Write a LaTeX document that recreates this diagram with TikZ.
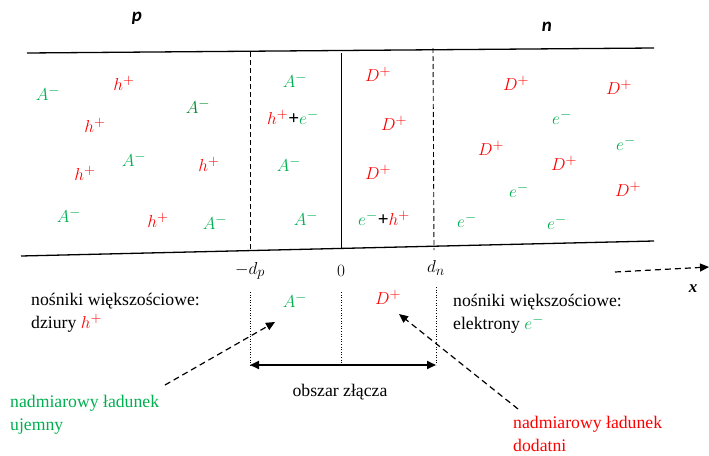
\documentclass[tikz,border=0pt]{standalone}
\usepackage{fontspec}
\setmainfont{Liberation Serif}
\newfontfamily\pnfont{Carlito}
\usetikzlibrary{arrows.meta}
\definecolor{gr}{RGB}{0,176,80}
\definecolor{dgr}{RGB}{0,140,40}
\definecolor{rd}{RGB}{255,0,0}
\tikzset{
  base/.style={inner sep=0pt, font=\fontsize{17.7}{23}\selectfont},
  mbase/.style={inner sep=0pt, font=\fontsize{19}{23}\selectfont},
  acc/.style={mbase, text=gr},
  don/.style={mbase, text=rd},
  hol/.style={mbase, text=rd},
  ele/.style={mbase, text=gr},
  edge/.style={line width=1.3pt},
  dsh/.style={dash pattern=on 6pt off 4pt, line width=1.2pt},
  tri/.style={-{Triangle[length=9pt,width=8pt]}},
}
\newcommand{\Am}{$A^{-}$}
\newcommand{\Dp}{$D^{+}$}
\newcommand{\hp}{$h^{+}$}
\newcommand{\elm}{$e^{-}$}
\begin{document}
\begin{tikzpicture}[x=1pt,y=-1pt]
\useasboundingbox (0,0) rectangle (709,455);
% region boundaries
\coordinate (tl) at (27,53); \coordinate (tr) at (654,48);
\coordinate (bl) at (21,256); \coordinate (br) at (654,241);
\draw[edge] (tl) -- (tr);
\draw[edge] (bl) -- (br);
\coordinate (dpT) at (250,52); \coordinate (dpB) at (250,251);
\coordinate (zT) at (341,53); \coordinate (zB) at (341,249);
\coordinate (dnT) at (433,48); \coordinate (dnB) at (434,250);
\draw[dash pattern=on 5pt off 3pt, line width=0.9pt] (dpT) -- (dpB);
\draw[line width=1pt] (zT) -- (zB);
\draw[dash pattern=on 5pt off 3pt, line width=0.9pt] (dnT) -- (dnB);
% region labels
\node[font=\pnfont\bfseries\itshape\fontsize{19}{19}\selectfont] (p) at (137,18) {p};
\node[font=\pnfont\bfseries\itshape\fontsize{19}{19}\selectfont] (n) at (547,27) {n};
% p region
\node[acc] (a1) at (48,93) {\Am};
\node[hol] (h1) at (124,83) {\hp};
\node[mbase, text=dgr] (a2) at (198,106) {\Am};
\node[hol] (h2) at (95,125) {\hp};
\node[acc] (a3) at (134,159) {\Am};
\node[hol] (h3) at (209,164) {\hp};
\node[hol] (h4) at (85,173) {\hp};
\node[acc] (a4) at (69,215) {\Am};
\node[hol] (h5) at (158,220) {\hp};
\node[acc] (a5) at (215,222) {\Am};
% depletion p side
\node[acc] (a6) at (295,80) {\Am};
\node[mbase] (he) at (293,117) {\textcolor{rd}{$h^{+}$}\textbf{+}\textcolor{gr}{$e^{-}$}};
\node[acc] (a7) at (289,164) {\Am};
\node[acc] (a8) at (306,218) {\Am};
% depletion n side
\node[don] (d1) at (378,74) {\Dp};
\node[don] (d2) at (394,123) {\Dp};
\node[don] (d3) at (378,172) {\Dp};
\node[mbase] (eh) at (384,218) {\textcolor{gr}{$e^{-}$}\textbf{+}\textcolor{rd}{$h^{+}$}};
% n region
\node[don] (d4) at (516,83) {\Dp};
\node[don] (d5) at (619,87) {\Dp};
\node[ele] (e1) at (562,117) {\elm};
\node[ele] (e2) at (626,143) {\elm};
\node[don] (d6) at (491,148) {\Dp};
\node[don] (d7) at (564,163) {\Dp};
\node[ele] (e3) at (519,190) {\elm};
\node[don] (d8) at (628,189) {\Dp};
\node[ele] (e4) at (467,220) {\elm};
\node[ele] (e5) at (557,222) {\elm};
% axis labels
\node[mbase] (ldp) at (250,271) {$-d_{p}$};
\node[mbase] (l0) at (341,271) {$0$};
\node[mbase] (ldn) at (436,268) {$d_{n}$};
% lower dotted lines
\coordinate (dp1) at (250,292); \coordinate (dp2) at (250,365);
\coordinate (z1) at (341,292); \coordinate (z2) at (341,365);
\coordinate (dn1) at (436,287); \coordinate (dn2) at (436,365);
\draw[dotted, line width=0.6pt] (dp1) -- (dp2);
\draw[dotted, line width=0.6pt] (z1) -- (z2);
\draw[dotted, line width=0.6pt] (dn1) -- (dn2);
\draw[line width=1.8pt, {Triangle[length=9pt,width=8pt]}-{Triangle[length=9pt,width=8pt]}] (dp2) -- (dn2);
\node[base] (obs) at (340,392) {obszar złącza};
% charges below
\node[acc] (ab) at (295,300) {\Am};
\node[don] (db) at (388,297) {\Dp};
% majority carriers
\node[base, anchor=west, align=left] (majp) at (31,313) {nośniki większościowe:\\dziury \textcolor{rd}{\fontsize{19}{23}\selectfont$h^{+}$}};
\node[base, anchor=west, align=left] (majn) at (453,314) {nośniki większościowe:\\elektrony \textcolor{gr}{\fontsize{19}{23}\selectfont$e^{-}$}};
% excess charges
\node[base, text=gr, anchor=west, align=left] (neg) at (10,415) {nadmiarowy ładunek\\ujemny};
\node[base, text=rd, anchor=west, align=left] (pos) at (513,434) {nadmiarowy ładunek\\dodatni};
\coordinate (negS) at (165,385); \coordinate (negT) at (275,322);
\coordinate (posS) at (518,409); \coordinate (posT) at (399,314);
\draw[dsh, tri] (negS) -- (negT);
\draw[dsh, tri] (posS) -- (posT);
% x axis
\coordinate (xS) at (615,272); \coordinate (xT) at (709,267);
\draw[dsh, tri] (xS) -- (xT);
\node[font=\bfseries\itshape\fontsize{17}{17}\selectfont] (xl) at (693,289) {x};
\end{tikzpicture}
\end{document}
